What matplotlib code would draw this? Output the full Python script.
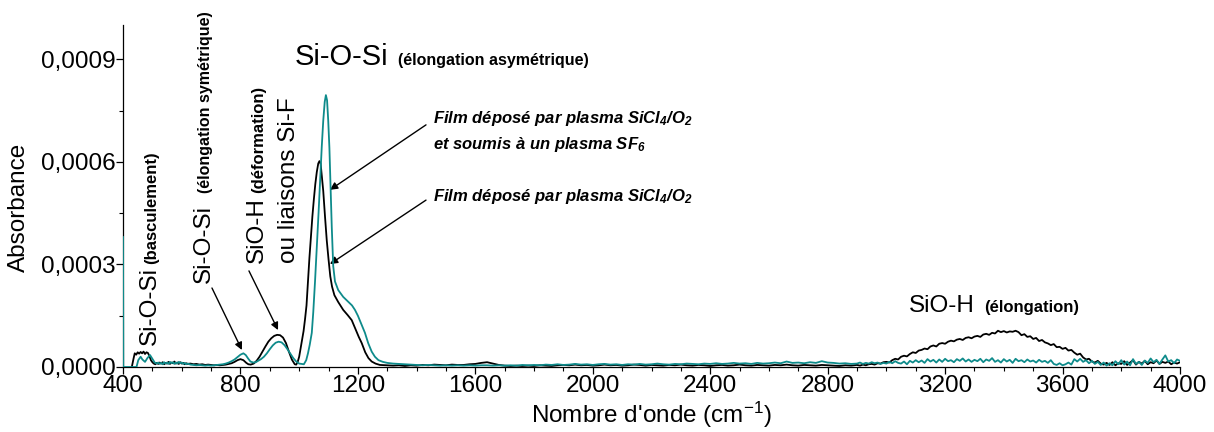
import numpy as np
import matplotlib
matplotlib.use("Agg")
import matplotlib.pyplot as plt
from matplotlib.ticker import MultipleLocator, FixedLocator, FuncFormatter

plt.rcParams.update({
    "font.family": ["Liberation Sans", "DejaVu Sans"],
    "mathtext.fontset": "custom",
    "mathtext.rm": "Liberation Sans",
    "mathtext.it": "Liberation Sans:style=italic",
    "mathtext.bf": "Liberation Sans:weight=bold",
    "mathtext.bfit": "Liberation Sans:style=italic:weight=bold",
})

SCALE = 1e-5  # absorbance values below are given in units of 1e-5

# ---- Film SiCl4/O2 (black) ----------------------------------------------
wn_film_low = [430, 436, 440, 445, 450, 455, 460, 465, 470, 475, 480, 485, 490, 495,
               500, 505, 510, 515, 520, 525, 530, 535, 540, 545, 550, 555, 560, 565,
               570, 575, 580, 585, 590, 595, 600, 605, 610, 615, 620, 630, 640, 650,
               660, 670, 680, 690, 700, 710, 720, 730, 740, 750, 760, 770, 780, 790,
               800, 810, 820, 827, 835, 845, 855, 865, 875, 885, 895, 905, 915, 925,
               935, 945, 955, 965, 975, 985, 990, 995, 1000, 1005, 1010, 1015, 1020,
               1025, 1030, 1035, 1040, 1045, 1050, 1055, 1060, 1065, 1069, 1073, 1077,
               1082, 1088, 1094, 1100, 1106, 1112, 1120, 1133, 1150, 1165, 1179, 1192,
               1203, 1213, 1225, 1236, 1247, 1260, 1275]
abs_film_low = [0.0, 2.5, 4.0, 3.6, 4.3, 3.9, 4.4, 4.0, 4.5, 3.8, 4.3, 4.1, 3.2, 2.0,
                1.4, 1.0, 0.8, 1.2, 0.9, 1.3, 1.0, 1.4, 0.8, 1.2, 1.0, 1.5, 0.9, 1.3,
                1.1, 1.6, 1.0, 1.3, 0.9, 1.4, 1.0, 1.2, 0.8, 1.1, 0.9, 1.0, 0.8, 0.9,
                0.7, 0.8, 0.6, 0.7, 0.6, 0.5, 0.6, 0.5, 0.6, 0.7, 0.9, 1.1, 1.5, 2.0,
                2.3, 2.0, 1.2, 0.8, 0.7, 1.0, 1.8, 3.0, 4.5, 6.0, 7.4, 8.4, 9.1, 9.4,
                9.3, 8.6, 7.0, 4.5, 2.2, 0.8, 0.7, 1.5, 3.0, 5.5, 8.0, 10.5, 14.0,
                18.0, 25.0, 32.0, 38.0, 44.0, 49.0, 53.5, 57.0, 59.5, 60.2, 59.5, 56.0,
                51.5, 44.0, 37.0, 31.5, 26.5, 23.5, 21.0, 19.0, 16.7, 15.2, 13.7, 11.0,
                8.8, 7.0, 4.3, 2.6, 1.6, 1.0, 0.6]
abs_film_mid = [0.5, 0.4, 0.5, 0.3, 0.5, 0.4, 0.6, 0.5, 0.7, 0.6,
                0.5, 0.7, 0.6, 0.6, 0.8, 0.9, 1.2, 1.4, 1.0, 0.6,
                0.4, 0.3, 0.4, 0.3, 0.4, 0.3, 0.5, 0.4, 0.3, 0.5,
                0.6, 0.5, 0.7, 0.5, 0.6, 0.4, 0.5, 0.7, 0.5, 0.6,
                0.4, 0.5, 0.7, 0.6, 0.4, 0.6, 0.5, 0.4, 0.6, 0.5,
                0.7, 0.5, 0.4, 0.6, 0.5, 0.3, 0.5, 0.6, 0.4, 0.5,
                0.7, 0.5, 0.4, 0.6, 0.5, 0.4, 0.6, 0.5, 0.7, 0.5,
                0.4, 0.6, 0.5, 0.4, 0.6, 0.5, 0.4, 0.3, 0.5, 0.4]
abs_film_high = [0.6, 0.4, 0.7, 0.5, 0.8, 0.9, 0.7, 1.1, 1.0, 1.4,
                 1.5, 1.3, 2.0, 2.4, 2.2, 3.0, 3.3, 3.1, 3.8, 4.3,
                 4.1, 4.8, 5.0, 5.4, 5.2, 6.0, 6.3, 6.0, 6.8, 7.0,
                 6.8, 7.4, 7.7, 7.5, 8.0, 8.2, 7.9, 8.5, 8.7, 8.4,
                 8.9, 9.1, 8.8, 9.5, 9.7, 9.4, 10.0, 9.8, 10.6, 10.2,
                 10.5, 10.1, 10.4, 10.3, 10.6, 10.2, 9.3, 9.6, 8.8, 9.0,
                 8.2, 8.5, 7.6, 7.9, 7.2, 6.9, 6.4, 6.7, 5.8, 5.9,
                 5.3, 5.6, 4.8, 5.0, 4.2, 3.6, 3.9, 2.8, 2.2, 2.4,
                 1.6, 1.3, 1.8, 1.0, 0.7, 1.2, 0.6, 1.4, 0.5, 1.1,
                 0.9, 1.7, 0.6, 1.3, 2.0, 0.7, 1.5, 1.0, 1.8, 0.8,
                 1.4, 1.1, 1.9, 0.9, 1.5, 1.2, 1.6, 0.8, 1.3, 1.0,
                 1.4]

# ---- Film SiCl4/O2 then SF6 plasma (teal) ----------------------------------
wn_sf6_low = [400, 401, 446, 452, 460, 466, 475, 483, 492, 500, 508, 515, 520, 525,
              530, 535, 540, 545, 550, 555, 560, 565, 570, 575, 580, 585, 590, 595,
              600, 605, 610, 615, 620, 630, 640, 650, 660, 670, 680, 690, 700, 710,
              720, 730, 740, 750, 760, 770, 780, 790, 800, 810, 818, 826, 834, 844,
              852, 860, 870, 880, 890, 900, 910, 920, 930, 940, 950, 960, 970, 980,
              990, 1000, 1008, 1016, 1024, 1030, 1036, 1043, 1048, 1054, 1060, 1066,
              1072, 1077, 1082, 1087, 1091, 1095, 1099, 1103, 1107, 1111, 1116, 1122,
              1133, 1150, 1167, 1180, 1190, 1200, 1212, 1224, 1235, 1247, 1258, 1270,
              1285]
abs_sf6_low = [38.0, 0.0, 0.0, 2.0, 3.0, 2.2, 1.5, 2.6, 3.5, 2.4, 1.3, 1.0, 1.3, 0.9,
               1.2, 0.8, 1.4, 1.0, 1.3, 0.9, 1.5, 1.1, 1.4, 0.9, 1.3, 1.0, 1.5, 1.1,
               1.3, 0.9, 1.2, 0.8, 1.0, 0.7, 0.6, 0.5, 0.6, 0.5, 0.4, 0.5, 0.4, 0.5,
               0.6, 0.7, 0.8, 1.0, 1.3, 1.7, 2.2, 2.9, 3.6, 4.0, 3.5, 2.5, 1.6, 1.3,
               1.4, 1.8, 2.3, 3.0, 4.0, 5.2, 6.3, 7.1, 7.4, 7.2, 6.4, 5.2, 3.9, 2.6,
               1.6, 1.0, 0.9, 0.8, 2.0, 4.0, 6.5, 10.0, 16.0, 25.0, 35.0, 45.0,
               56.0, 64.5, 72.0, 77.5, 79.5, 78.0, 72.0, 64.0, 52.0, 41.0, 29.5, 25.0,
               22.5, 20.5, 19.1, 18.0, 16.7, 15.0, 12.5, 10.0, 7.0, 4.5, 3.0, 2.0,
               1.5]
abs_sf6_mid = [1.2, 1.0, 0.9, 0.8, 0.7, 0.6, 0.5, 0.6, 0.5, 0.4,
               0.5, 0.4, 0.5, 0.4, 0.5, 0.4, 0.5, 0.5, 0.4, 0.5,
               0.4, 0.5, 0.4, 0.6, 0.5, 0.6, 0.5, 0.7, 0.6, 0.8,
               0.6, 0.7, 0.9, 0.7, 0.8, 0.6, 0.8, 0.9, 0.7, 0.8,
               0.6, 0.8, 0.7, 0.9, 0.7, 0.8, 1.0, 0.8, 0.7, 0.9,
               0.8, 1.0, 0.9, 0.8, 1.0, 0.9, 1.1, 0.9, 1.0, 1.2,
               1.0, 1.1, 0.9, 1.2, 1.0, 1.1, 1.3, 1.1, 1.6, 1.2,
               1.3, 1.1, 1.4, 1.2, 1.7, 1.3, 1.2, 1.0, 1.1, 0.9]
abs_sf6_high = [1.0, 1.3, 0.9, 1.2, 1.0, 1.4, 1.1, 1.3, 0.9, 1.2,
                1.0, 1.5, 1.1, 1.7, 1.2, 1.0, 1.6, 0.8, 1.8, 1.3,
                2.0, 1.4, 1.9, 1.2, 2.3, 1.6, 2.1, 1.3, 2.2, 1.5,
                2.4, 1.7, 2.0, 1.4, 2.3, 1.8, 2.5, 1.6, 2.2, 1.5,
                2.1, 1.7, 2.4, 1.4, 2.2, 1.8, 2.6, 1.5, 2.0, 1.3,
                2.3, 1.6, 2.1, 1.2, 2.4, 1.7, 2.0, 1.4, 2.2, 1.6,
                1.9, 1.3, 2.1, 1.5, 1.8, 1.2, 2.0, 0.9, 0.6, 1.1,
                0.5, 0.8, 1.3, 0.7, 2.3, 1.6, 2.4, 1.5, 2.0, 1.1,
                1.8, 0.9, 1.5, 0.6, 1.3, 0.4, 1.1, 0.5, 1.7, 0.8,
                2.0, 0.7, 1.6, 0.5, 2.3, 0.9, 1.5, 0.6, 1.9, 1.2,
                2.5, 1.4, 2.1, 0.9, 2.2, 3.4, 1.6, 2.0, 1.1, 2.2,
                1.8]

# sampling grids of the recorded spectra
wn_mid = np.arange(1300, 2900, 20)
wn_high = np.arange(2900, 4001, 10)

wn_film = np.concatenate([wn_film_low, wn_mid, wn_high])
abs_film = np.concatenate([abs_film_low, abs_film_mid, abs_film_high]) * SCALE
wn_sf6 = np.concatenate([wn_sf6_low, wn_mid, wn_high])
abs_sf6 = np.concatenate([abs_sf6_low, abs_sf6_mid, abs_sf6_high]) * SCALE

x_ticks = [400, 800, 1200, 1600, 2000, 2400, 2800, 3200, 3600, 4000]
y_ticks = [0.0, 0.0003, 0.0006, 0.0009]

TEAL = "#0e8b8b"

fig = plt.figure(figsize=(12.14, 4.32), dpi=100)
ax = fig.add_axes([123 / 1214, 1 - 367 / 432, 1057 / 1214, 342 / 432])

ax.plot(wn_film, abs_film, color="black", lw=1.3, zorder=3)
ax.plot(wn_sf6, abs_sf6, color=TEAL, lw=1.3, zorder=4)

ax.set_xlim(400, 4000)
ax.set_ylim(0, 0.001)

for side in ("top", "right"):
    ax.spines[side].set_visible(False)
for side in ("left", "bottom"):
    ax.spines[side].set_linewidth(0.9)

ax.xaxis.set_major_locator(FixedLocator(x_ticks))
ax.xaxis.set_minor_locator(MultipleLocator(100))
ax.yaxis.set_major_locator(FixedLocator(y_ticks))
ax.yaxis.set_minor_locator(MultipleLocator(0.00015))
ax.yaxis.set_major_formatter(FuncFormatter(lambda v, _: f"{v:.4f}".replace(".", ",")))
ax.tick_params(which="major", direction="out", length=5, width=0.9, labelsize=17.5)
ax.tick_params(which="minor", direction="out", length=3, width=0.8)
ax.tick_params(axis="x", pad=1)
ax.tick_params(axis="y", pad=0)

ax.set_xlabel(r"Nombre d'onde (cm$^{-1}$)", fontsize=17.5, labelpad=2)
ax.set_ylabel("Absorbance", fontsize=17.5)
ax.yaxis.set_label_coords(-0.088, 0.468)

BIG = 17.5
SMALL = 12

# band assignments, horizontal
ax.text(986, 0.000883, "Si-O-Si", fontsize=21, ha="left", va="baseline")
ax.text(1337, 0.000883, "(élongation asymétrique)", fontsize=11.5,
        fontweight="bold", ha="left", va="baseline")
ax.text(3077, 0.000162, "SiO-H", fontsize=BIG, ha="left", va="baseline")
ax.text(3333, 0.000162, "(élongation)", fontsize=SMALL, fontweight="bold",
        ha="left", va="baseline")

# band assignments, vertical
vkw = dict(rotation=90, rotation_mode="anchor", ha="left", va="baseline")
ax.text(512, 0.0000643, "Si-O-Si", fontsize=BIG, **vkw)
ax.text(512, 0.000301, "(basculement)", fontsize=SMALL, fontweight="bold", **vkw)
ax.text(696, 0.000246, "Si-O-Si", fontsize=BIG, **vkw)
ax.text(696, 0.000509, "(élongation symétrique)", fontsize=11.5,
        fontweight="bold", **vkw)
ax.text(877, 0.000304, "SiO-H", fontsize=BIG, **vkw)
ax.text(877, 0.000509, "(déformation)", fontsize=SMALL, fontweight="bold", **vkw)
ax.text(986, 0.000304, "ou liaisons Si-F", fontsize=BIG, **vkw)

# sample legends
fkw = dict(fontsize=12, fontweight="bold", style="italic", ha="left", va="baseline")
ax.text(1456, 0.000713,
        r"Film déposé par plasma SiCl$_{\mathbfit{4}}$/O$_{\mathbfit{2}}$", **fkw)
ax.text(1456, 0.000637, r"et soumis à un plasma SF$_{\mathbfit{6}}$", **fkw)
ax.text(1456, 0.000485,
        r"Film déposé par plasma SiCl$_{\mathbfit{4}}$/O$_{\mathbfit{2}}$", **fkw)

akw = dict(arrowstyle="-|>", color="black", lw=1.0, mutation_scale=11,
           shrinkA=0, shrinkB=0)
ax.annotate("", xy=(1105, 0.000518), xytext=(1432, 0.000708), arrowprops=akw)
ax.annotate("", xy=(1105, 0.000301), xytext=(1432, 0.000488), arrowprops=akw)
ax.annotate("", xy=(805, 0.0000497), xytext=(703, 0.000231), arrowprops=akw)
ax.annotate("", xy=(928, 0.000108), xytext=(829, 0.000281), arrowprops=akw)

fig.savefig("out.png", dpi=100)
